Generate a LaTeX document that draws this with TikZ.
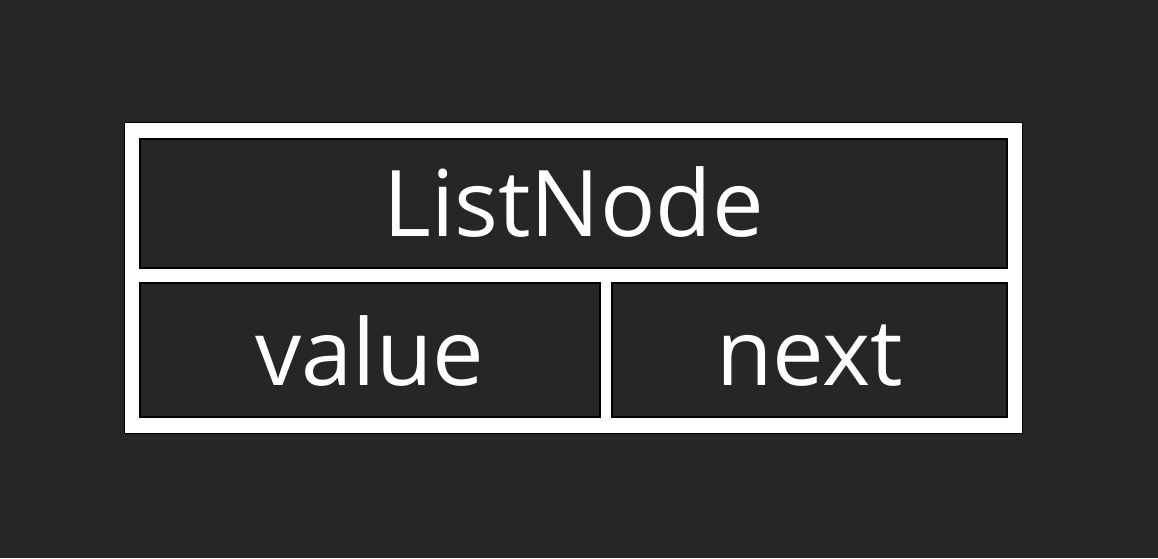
\documentclass[tikz,border=0pt]{standalone}
\usepackage{fontspec}
\setmainfont{Open Sans}
\usetikzlibrary{positioning}
\definecolor{bgdark}{HTML}{262626}
\def\pxlen{0.5pt}
\tikzset{
    frame/.style={fill=white, draw=black, line width=1*\pxlen, inner sep=0pt},
    cell/.style={fill=bgdark, draw=black, line width=1.5*\pxlen, inner sep=0pt,
        text=white, font=\fontsize{46}{50}\selectfont, text depth=0pt},
}
\begin{document}
\begin{tikzpicture}[x=\pxlen, y=-\pxlen]
        \fill [bgdark] (0,0) rectangle (1158,558);
        \useasboundingbox (0,0) rectangle (1158,558);

        % white frame behind the cells
        \node [frame, minimum width=898*\pxlen, minimum height=311*\pxlen] (outer) at (573,277.5) {};

        \node [cell, minimum width=867*\pxlen, minimum height=129*\pxlen, text height=33pt] (header) at (573.5,203.5) {ListNode};
        \node [cell, minimum width=460*\pxlen, minimum height=134*\pxlen, text height=35pt] (value) at (370,350) {value};
        \node [cell, minimum width=395*\pxlen, minimum height=134*\pxlen, text height=35pt] (next) at (809.5,350) {next};
    \end{tikzpicture}
\end{document}
